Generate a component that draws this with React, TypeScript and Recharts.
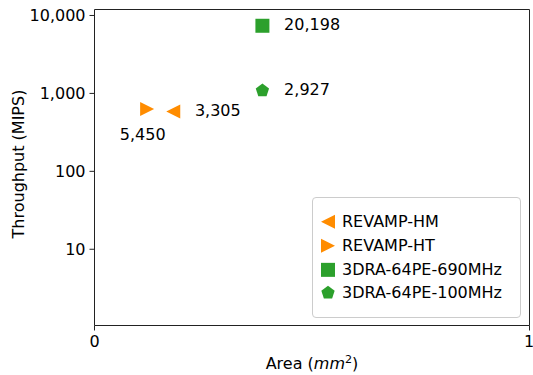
import React from 'react';
import { ScatterChart, Scatter, XAxis, YAxis, Legend, ReferenceLine } from 'recharts';

// ---- data ----
const SERIES = ['REVAMP-HM', 'REVAMP-HT', '3DRA-64PE-690MHz', '3DRA-64PE-100MHz'];
const AREA = [0.181, 0.121, 0.386, 0.386];
const THROUGHPUT = [585, 631, 7380, 1086];
const ANNOTATIONS = ['3,305', '5,450', '20,198', '2,927'];
const X_TICKS = [0, 1];
const Y_TICKS = [10, 100, 1000, 10000];
const X_DOMAIN: [number, number] = [0, 1];
const Y_DOMAIN: [number, number] = [1.051, 11934];

// ---- styles ----
const COLORS = ['#ff8c00', '#ff8c00', '#2ca02c', '#2ca02c'];
const MARKERS = ['triangleLeft', 'triangleRight', 'square', 'pentagon'];
const LABEL_DX = [21.7, -4.4, 21.7, 21.7];
const LABEL_DY = [4.7, 31.3, 4.7, 4.0];
const LABEL_ANCHOR = ['start', 'middle', 'start', 'start'];
const MARKER_SIZE = 14;
const FONT = '"DejaVu Sans", sans-serif';
const AXIS_COLOR = '#222';

function marker(kind: string, cx: number, cy: number, s: number, color: string) {
  const h = s / 2;
  switch (kind) {
    case 'triangleLeft':
      return <polygon points={`${cx - h},${cy} ${cx + h},${cy - h} ${cx + h},${cy + h}`} fill={color} />;
    case 'triangleRight':
      return <polygon points={`${cx + h},${cy} ${cx - h},${cy - h} ${cx - h},${cy + h}`} fill={color} />;
    case 'square':
      return <rect x={cx - h} y={cy - h} width={s} height={s} fill={color} />;
    default: {
      const pts: string[] = [];
      for (let k = 0; k < 5; k++) {
        const a = ((-90 + 72 * k) * Math.PI) / 180;
        pts.push(`${cx + h * Math.cos(a)},${cy + h * Math.sin(a)}`);
      }
      return <polygon points={pts.join(' ')} fill={color} />;
    }
  }
}

const seriesData = SERIES.map((_, i) => [{ x: AREA[i], y: THROUGHPUT[i], label: ANNOTATIONS[i] }]);

const LegendBox = (props: any) => {
  const names: string[] = props && props.payload && props.payload.length
    ? SERIES.filter((n) => props.payload.some((p: any) => p.value === n))
    : SERIES;
  return (
    <div
      style={{
        boxSizing: 'border-box',
        width: 209,
        height: 121,
        border: '1px solid #cccccc',
        borderRadius: 4,
        background: 'rgba(255,255,255,0.8)',
        paddingTop: 12.2,
        fontSize: 16,
        fontFamily: FONT,
        color: '#000',
      }}
    >
      {names.map((name) => {
        const i = SERIES.indexOf(name);
        return (
          <div key={name} style={{ height: 23.7, display: 'flex', alignItems: 'center' }}>
            <svg width={29} height={23.7} style={{ display: 'block', flex: 'none' }}>
              {marker(MARKERS[i], 15, 11.85, MARKER_SIZE, COLORS[i])}
            </svg>
            <span style={{ lineHeight: '23.7px', whiteSpace: 'nowrap' }}>{name}</span>
          </div>
        );
      })}
    </div>
  );
};

const YLabel = (props: any) => {
  const vb = props.viewBox || { x: 0, y: 9.5, width: 94.5, height: 316 };
  const x = vb.x + 24;
  const y = vb.y + vb.height / 2 - 3.5;
  return (
    <text x={x} y={y} transform={`rotate(-90, ${x}, ${y})`} textAnchor="middle" fontSize={16} fill="#000" fontFamily={FONT}>
      Throughput (MIPS)
    </text>
  );
};

const XLabel = (props: any) => {
  const vb = props.viewBox || { x: 94.5, y: 325.5, width: 434.5, height: 49.5 };
  const x = vb.x + vb.width / 2;
  const y = vb.y + 43.5;
  return (
    <text x={x} y={y} textAnchor="middle" fontSize={16} fill="#000" fontFamily={FONT}>
      <tspan>Area (</tspan>
      <tspan fontStyle="italic">mm</tspan>
      <tspan dy={-6} fontSize={11.2}>2</tspan>
      <tspan dy={6}>)</tspan>
    </text>
  );
};

export default function App() {
  return (
    <div style={{ position: 'absolute', left: 0, top: 0, width: 533, height: 375, fontFamily: FONT, background: '#fff' }}>
      <ScatterChart width={533} height={375} margin={{ top: 9.5, right: 3.5, bottom: 0, left: 0 }}>
        <XAxis
          type="number"
          dataKey="x"
          domain={X_DOMAIN}
          ticks={X_TICKS}
          allowDataOverflow
          height={49.5}
          stroke={AXIS_COLOR}
          tickSize={5}
          tickMargin={5}
          tick={{ fill: '#000', fontSize: 16 }}
          label={<XLabel />}
        />
        <YAxis
          type="number"
          dataKey="y"
          scale="log"
          domain={Y_DOMAIN}
          ticks={Y_TICKS}
          allowDataOverflow
          width={94.5}
          stroke={AXIS_COLOR}
          tickSize={5}
          tickMargin={4}
          tick={{ fill: '#000', fontSize: 16 }}
          tickFormatter={(v: number) => v.toLocaleString('en-US')}
          label={<YLabel />}
        />
        <ReferenceLine y={Y_DOMAIN[1]} stroke={AXIS_COLOR} strokeWidth={1} ifOverflow="visible" />
        <ReferenceLine x={X_DOMAIN[1]} stroke={AXIS_COLOR} strokeWidth={1} ifOverflow="visible" />
        <Legend
          layout="vertical"
          align="center"
          verticalAlign="middle"
          content={<LegendBox />}
          wrapperStyle={{ left: 312, top: 197, width: 209, height: 121 }}
        />
        {SERIES.map((name, i) => (
          <Scatter
            key={name}
            name={name}
            data={seriesData[i]}
            fill={COLORS[i]}
            isAnimationActive={false}
            shape={(p: any) => (
              <g>
                {marker(MARKERS[i], p.cx, p.cy, MARKER_SIZE, COLORS[i])}
                <text
                  x={p.cx + LABEL_DX[i]}
                  y={p.cy + LABEL_DY[i]}
                  textAnchor={LABEL_ANCHOR[i] as any}
                  fontSize={16}
                  fill="#000"
                  fontFamily={FONT}
                >
                  {p.payload.label}
                </text>
              </g>
            )}
          />
        ))}
      </ScatterChart>
    </div>
  );
}
